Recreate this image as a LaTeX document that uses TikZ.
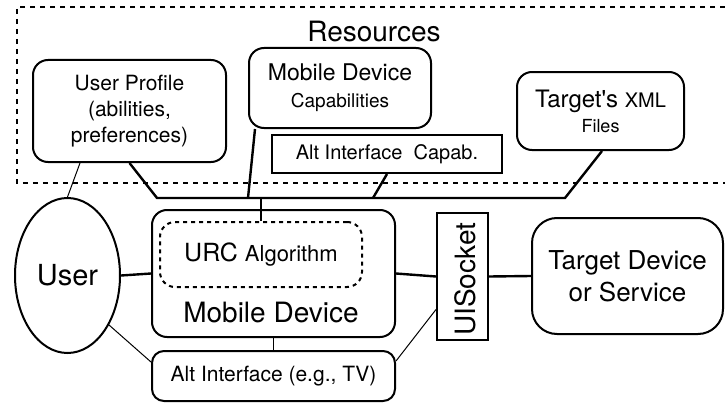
\documentclass[tikz,border=0pt]{standalone}
\usepackage{fontspec}
\setmainfont{TeX Gyre Heros}
\newfontfamily\hvplain{TeX Gyre Heros}
\usetikzlibrary{shapes.geometric}
\newcommand{\fsz}[2]{\fontsize{#1}{#2}\selectfont}
\begin{document}
\begin{tikzpicture}[x=1pt,y=-1pt,
  box/.style={draw, line width=2pt, rounded corners=15pt, align=center, inner sep=0pt},
  sharpbox/.style={draw, line width=2pt, align=center, inner sep=0pt},
  thickline/.style={line width=2.4pt},
  thinline/.style={line width=1pt},
  dashframe/.style={line width=2pt, dash pattern=on 5pt off 5pt},
]
\useasboundingbox (0,0) rectangle (725,404);
% Resources frame (open to the right)
\coordinate (fr1) at (725,7);
\coordinate (fr2) at (17,7);
\coordinate (fr3) at (17,183);
\coordinate (fr4) at (725,183);
\draw[dashframe] (fr1) -- (fr2) -- (fr3) -- (fr4);
\node[anchor=base, font=\fsz{28}{34}] (res) at (374,42) {Resources};

% resource boxes
\node[box, minimum width=193pt, minimum height=102pt, font=\fsz{21}{26}] (up) at (129.5,111) {User Profile\\(abilities,\\preferences)};
\node[box, minimum width=182pt, minimum height=80pt, font=\fsz{23}{27}] (mdc) at (340,88) {Mobile Device\\\fsz{19}{27}Capabilities};
\node[sharpbox, minimum width=230pt, minimum height=38pt, font=\fsz{20}{24}] (altcap) at (387,154) {Alt Interface\ \ Capab.};
\node[box, minimum width=167pt, minimum height=78pt, font=\hvplain\fsz{24}{25}] (xml) at (600.5,111) {Target's {\fsz{20}{25}XML}\\\fsz{18}{25}Files};

% lower part
\node[draw, ellipse, line width=2pt, minimum width=105pt, minimum height=155pt, inner sep=0pt, font=\fsz{29}{34}] (user) at (67.5,275.5) {User};
\node[box, minimum width=243pt, minimum height=127pt] (mobile) at (273.5,273.5) {};
\node[box, dash pattern=on 4pt off 4pt, minimum width=202pt, minimum height=65pt] (urc) at (261,254.5) {\fsz{25}{30}URC {\fsz{22}{30}Algorithm}};
\node[anchor=base, font=\fsz{28}{34}] (mdlabel) at (271,322) {Mobile Device};
\node[sharpbox, minimum width=51pt, minimum height=127pt] (socket) at (462.5,276.5) {};
\node[rotate=90, anchor=base west, font=\fsz{28}{34}, inner sep=0pt] (sockettext) at (475,336) {UISocket};
\node[box, rounded corners=25pt, minimum width=191pt, minimum height=116pt, font=\fsz{26}{32}] (target) at (627.5,276) {Target Device\\or Service};
\node[box, rounded corners=12pt, minimum width=243pt, minimum height=50pt, font=\fsz{21}{25}] (alt) at (273.5,376) {Alt Interface (e.g., TV)};

% connectors
\coordinate (bl) at (157,198);
\coordinate (br) at (565,198);
\coordinate (jm) at (248,198);
\coordinate (ja) at (373,198);
\coordinate (ju) at (261,198);
\draw[thinline] ([xshift=-49.5pt]up.south) -- (user.north);
\draw[thickline] (up.south) -- (bl) -- (br) -- ([xshift=1.5pt]xml.south);
\draw[thickline] ([xshift=-85pt]mdc.south) -- (jm);
\draw[thickline] (altcap.south) -- (ja);
\draw[thickline] (ju) -- (urc.north);
\draw[thickline] (user.east) -- (mobile.west);
\draw[thickline] (mobile.east) -- (socket.west);
\draw[thickline] (socket.east) -- (target.west);
\draw[thinline] (mobile.south) -- (alt.north);
\draw[thinline] (user.-50) -- ([yshift=14pt]alt.west);
\draw[thinline] ([yshift=15pt]alt.east) -- ([yshift=-33pt]socket.west);
\end{tikzpicture}
\end{document}
